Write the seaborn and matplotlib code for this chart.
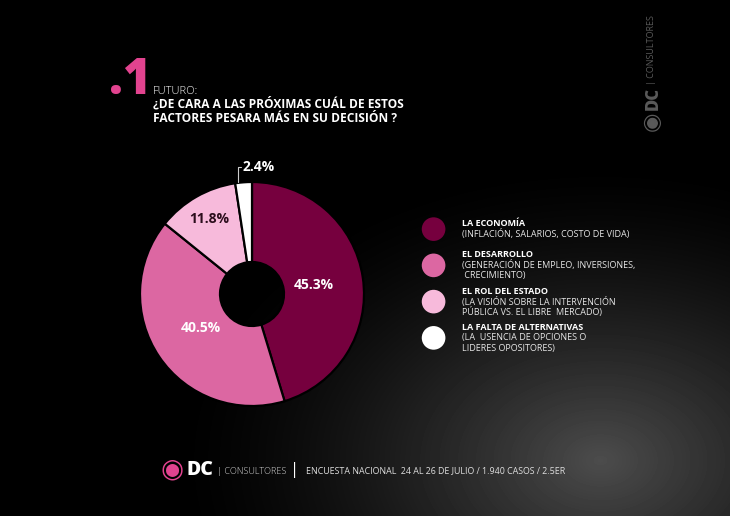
import matplotlib
matplotlib.use('Agg')
import matplotlib.pyplot as plt
import seaborn as sns
import numpy as np

categorias = ['LA ECONOMÍA', 'EL DESARROLLO', 'EL ROL DEL ESTADO', 'LA FALTA DE ALTERNATIVAS']
detalles = [['(INFLACIÓN, SALARIOS, COSTO DE VIDA)'],
            ['(GENERACIÓN DE EMPLEO, INVERSIONES,', ' CRECIMIENTO)'],
            ['(LA VISIÓN SOBRE LA INTERVENCIÓN', 'PÚBLICA VS. EL LIBRE  MERCADO)'],
            ['(LA  USENCIA DE OPCIONES O', 'LIDERES OPOSITORES)']]
porcentajes = [45.3, 40.5, 11.8, 2.4]
colores = ['#76003e', '#dc67a2', '#f7badb', '#ffffff']

W, H = 730, 516
PINK = '#e2438f'

sns.set_theme(style='white')
plt.rcParams['font.family'] = ['Open Sans', 'DejaVu Sans']

fig = plt.figure(figsize=(W / 100, H / 100), dpi=100)
fig.patch.set_facecolor('black')


def px(x, y):
    return x / W, 1 - y / H


# background: dark grey glow in the lower right (cube scene, only suggested)
bg = fig.add_axes([0, 0, 1, 1])
bg.set_axis_off()
yy, xx = np.mgrid[0:H, 0:W]
glow = np.clip(1 - np.hypot((xx - 600) / 430, (yy - 460) / 300), 0, 1) ** 1.5 * 0.30
bg.imshow(glow, cmap='gray', vmin=0, vmax=1, extent=[0, W, H, 0], aspect='auto')
bg.set_xlim(0, W)
bg.set_ylim(H, 0)

# heading
fig.text(*px(109, 81), '.1', color=PINK, fontsize=35, fontweight=800, va='center', ha='left')
fig.text(*px(153, 91), 'FUTURO:', color='white', fontsize=8, fontweight='light', va='center')
fig.text(*px(153, 104), '¿DE CARA A LAS PRÓXIMAS CUÁL DE ESTOS', color='white',
         fontsize=8.6, fontweight='bold', va='center')
fig.text(*px(153, 118), 'FACTORES PESARA MÁS EN SU DECISIÓN ?', color='white',
         fontsize=8.6, fontweight='bold', va='center')

# donut
cx, cy, R = 252, 294, 112
ax = fig.add_axes([(cx - R) / W, 1 - (cy + R) / H, 2 * R / W, 2 * R / H])
wedges, _ = ax.pie(porcentajes, colors=colores, startangle=90, counterclock=False,
                   radius=1, wedgeprops=dict(width=1 - 32 / R, edgecolor='black', linewidth=1.6))
ax.set_aspect('equal')
ax.set_xlim(-1, 1)
ax.set_ylim(-1, 1)

radios = [0.56, 0.55, 0.77, None]
txt_col = ['white', 'white', '#2b0d1c', 'white']
for w, p, r, c in zip(wedges, porcentajes, radios, txt_col):
    ang = np.deg2rad((w.theta1 + w.theta2) / 2)
    label = f'{p:.1f}%'
    if r is not None:
        ax.text(r * np.cos(ang), r * np.sin(ang), label, color=c, fontsize=10,
                fontweight='bold', ha='center', va='center')
    else:
        x0 = np.cos(np.deg2rad(w.theta2 - 1.5))
        ax.plot([x0, x0, x0 + 0.03], [1.0, 1.13, 1.13], color='#cccccc', lw=0.8,
                clip_on=False)
        ax.text(x0 + 0.04, 1.13, label, color=c, fontsize=10, fontweight='bold',
                ha='left', va='center', clip_on=False)

# legend
lg = fig.add_axes([420 / W, 1 - 356 / H, 240 / W, 145 / H])
lg.set_axis_off()
pos = np.arange(len(categorias))
sns.scatterplot(x=np.zeros(len(pos)), y=pos, hue=categorias, palette=colores, s=290,
                linewidth=0, legend=False, ax=lg)
lg.set_xlim(-0.6, 10)
lg.set_ylim(len(pos) - 0.5, -0.5)
paso = 10.6 / 36.25  # line step in legend units
for i, (t, d) in enumerate(zip(categorias, detalles)):
    y0 = i - len(d) / 2 * paso
    lg.text(1.25, y0, t, color='white', fontsize=6.5, fontweight='bold', va='center')
    for k, linea in enumerate(d):
        lg.text(1.25, y0 + (k + 1) * paso, linea, color='#e6e6e6', fontsize=6.5,
                va='center')

# footer
fig.text(*px(172, 470), '◉', color=PINK, fontsize=19, ha='center', va='center',
         family=['DejaVu Sans'])
fig.text(*px(186, 470), 'DC', color='white', fontsize=14, fontweight=800, va='center')
fig.text(*px(217, 471), '| CONSULTORES', color='#dddddd', fontsize=6.5, fontweight='light', va='center')
fig.text(*px(295, 470), '|', color='white', fontsize=12, va='center', ha='center')
fig.text(*px(306, 471), 'ENCUESTA NACIONAL  24 AL 26 DE JULIO / 1.940 CASOS / 2.5ER',
         color='#dddddd', fontsize=6.4, va='center')

# side logo
fig.text(*px(652, 50), '| CONSULTORES', color='#5a5a5a', fontsize=6.5, rotation=90,
         ha='center', va='center')
fig.text(*px(653, 98), 'DC', color='#5a5a5a', fontsize=12, fontweight=800, rotation=90,
         ha='center', va='center')
fig.text(*px(652, 121), '◉', color='#5a5a5a', fontsize=16, rotation=90, ha='center',
         va='center', family=['DejaVu Sans'])

fig.savefig('out.png', dpi=100, facecolor='black')
